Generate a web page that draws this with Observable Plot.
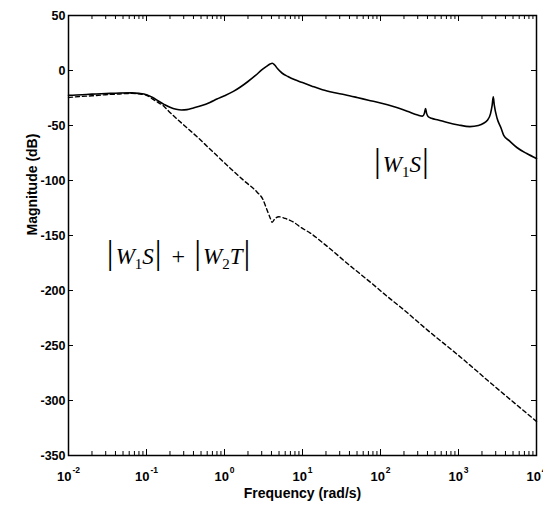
<!DOCTYPE html>
<html><head><meta charset="utf-8">
<script src="https://cdn.jsdelivr.net/npm/d3@7"></script>
<script src="https://cdn.jsdelivr.net/npm/@observablehq/plot@0.6"></script>
<style>body{margin:0;background:#fff}</style>
</head><body><div id="chart"></div>
<script>
// |W1S| (solid)
const freqW1S = [0.01,0.015,0.02,0.03,0.045,0.065,0.08,0.1,0.12,0.14,0.17,0.2,0.24,0.28,0.33,0.4,0.5,0.65,0.8,1.0,1.3,1.6,2.0,2.5,3.0,3.5,3.85,4.1,4.4,4.8,5.5,6.5,8,10,13,18,25,35,50,70,100,150,220,300,345,365,378,390,410,450,550,700,1000,1400,1800,2100,2330,2570,2700,2790,2880,3130,3500,3800,4500,5600,7500,10000];
const magW1S  = [-22.5,-22,-21.5,-21,-20.5,-20.3,-20.8,-22,-24.5,-27.5,-31,-33.5,-35.3,-35.9,-35.6,-34,-32,-29,-26,-23,-19,-15,-10,-4.5,0.5,4,6,6.6,5,1.5,-2.5,-5.5,-8.5,-11,-14,-17.5,-20,-22,-24.5,-27,-29.5,-33,-37,-40.5,-41.5,-39,-34.5,-39,-42,-43.5,-45,-47,-49.5,-51,-50,-48,-45.5,-39.4,-31.8,-24,-31.8,-43.6,-52,-59,-64,-70,-75.5,-80];
// |W1S| + |W2T| (dashed)
const freqSum = [0.01,0.015,0.02,0.03,0.045,0.065,0.08,0.1,0.12,0.14,0.167,0.19,0.25,0.3,0.45,0.7,1.19,1.8,2.62,3.1,3.52,3.85,4.08,4.4,4.97,6,7.74,9.42,12.7,20,40,70,141,180,400,1000,3000,10000];
const magSum  = [-24.5,-23.5,-23,-22,-21.3,-20.8,-21.2,-22.5,-26,-29,-32.5,-36.5,-44.5,-49.5,-60.6,-73.5,-89,-100.5,-110.6,-117,-127,-134,-138,-135,-133,-134.5,-138,-142.4,-148,-159,-177,-191,-209,-215,-236,-259,-288,-319];

const xTickValues = [0.01,0.1,1,10,100,1000,10000];
const yTickValues = [50,0,-50,-100,-150,-200,-250,-300,-350];
const annotationFreq = [180, 0.25];
const annotationMag = [-92.7, -175.5];
const annotationText = ["|W1S|", "|W1S| + |W2T|"];
const xLabel = "Frequency (rad/s)";
const yLabel = "Magnitude (dB)";

const w1sData = freqW1S.map((f,i)=>({f, db: magW1S[i]}));
const sumData = freqSum.map((f,i)=>({f, db: magSum[i]}));
const annotations = annotationText.map((label,i)=>({f: annotationFreq[i], db: annotationMag[i], label}));
const xMinor = [];
for (let k = 0; k < xTickValues.length - 1; k++) for (let m = 2; m <= 9; m++) xMinor.push(m * xTickValues[k]);

const W = 543, H = 510, mL = 68, mR = 7, mT = 15, mB = 55;
const iw = W - mL - mR, ih = H - mT - mB;
const sans = "'Liberation Sans', Arial, sans-serif";

const plot = Plot.plot({
  width: W, height: H, marginLeft: mL, marginRight: mR, marginTop: mT, marginBottom: mB,
  style: {fontFamily: sans, background: "white", color: "black"},
  x: {type: "log", domain: [0.01, 10000]},
  y: {domain: [-350, 50]},
  marks: [
    Plot.line(w1sData, {x: "f", y: "db", stroke: "black", strokeWidth: 1.6, curve: "monotone-x"}),
    Plot.line(sumData, {x: "f", y: "db", stroke: "black", strokeWidth: 1.4, strokeDasharray: "4,3", curve: "monotone-x"}),
    Plot.ruleX(xMinor, {x: d => d, insetTop: ih - 4, stroke: "black", strokeWidth: 1}),
    Plot.ruleX(xMinor, {x: d => d, insetBottom: ih - 4, stroke: "black", strokeWidth: 1}),
    Plot.ruleX(xTickValues, {x: d => d, insetTop: ih - 6, stroke: "black", strokeWidth: 1}),
    Plot.ruleX(xTickValues, {x: d => d, insetBottom: ih - 6, stroke: "black", strokeWidth: 1}),
    Plot.ruleY(yTickValues, {y: d => d, insetRight: iw - 5, stroke: "black", strokeWidth: 1}),
    Plot.ruleY(yTickValues, {y: d => d, insetLeft: iw - 5, stroke: "black", strokeWidth: 1}),
    Plot.frame({stroke: "black", strokeWidth: 1.5}),
    Plot.axisX(xTickValues, {tickSize: 0, tickPadding: 16, tickFormat: d => "10^" + Math.round(Math.log10(d)), fontSize: 13, fontWeight: "bold", label: null}),
    Plot.axisY(yTickValues, {tickSize: 0, tickPadding: 3, tickFormat: d => String(d), fontSize: 12.5, fontWeight: "bold", label: null}),
    Plot.text([xLabel], {text: d => d, frameAnchor: "bottom", dy: 42, lineAnchor: "bottom", fontSize: 14, fontWeight: "bold"}),
    Plot.text([yLabel], {text: d => d, frameAnchor: "left", dx: -36, rotate: -90, fontSize: 14, fontWeight: "bold"}),
    Plot.text(annotations, {x: "f", y: "db", text: "label", lineAnchor: "bottom", fontFamily: "'Liberation Serif', 'Times New Roman', serif", fontSize: 23})
  ]
});

// superscript exponents on x tick labels
d3.select(plot).selectAll('g[aria-label="x-axis tick label"] text').each(function() {
  const [b, e] = this.textContent.split("^");
  this.textContent = "";
  const s = d3.select(this);
  s.append("tspan").text(b);
  s.append("tspan").attr("dy", "-8").attr("dx", "1").attr("font-size", "8.5").text(e);
});

// math-style annotations
function buildMath(el) {
  const str = el.textContent;
  el.textContent = "";
  const s = d3.select(el);
  let sub = false;
  let pendingDx = 0;
  for (const ch of str) {
    if (ch === " ") { pendingDx += 8; continue; }
    const t = s.append("tspan").text(ch);
    let dy = 0;
    if (/[0-9]/.test(ch)) {
      t.attr("font-size", 15).attr("font-style", "normal");
      dy = 5; sub = true;
    } else {
      if (sub) { dy = -5; sub = false; }
      if (ch === "|") t.attr("font-size", 34).attr("font-style", "normal");
      else if (ch === "+") t.attr("font-size", 24).attr("font-style", "normal");
      else t.attr("font-size", 23).attr("font-style", "italic");
    }
    if (dy) t.attr("dy", dy);
    if (ch === "|" ) pendingDx += 1;
    if (pendingDx) t.attr("dx", pendingDx);
    pendingDx = (ch === "|") ? 2 : 0;
  }
}
d3.select(plot).selectAll("text").each(function() {
  if (annotationText.includes(this.textContent)) buildMath(this);
});

document.getElementById("chart").appendChild(plot);
</script>
</body></html>
